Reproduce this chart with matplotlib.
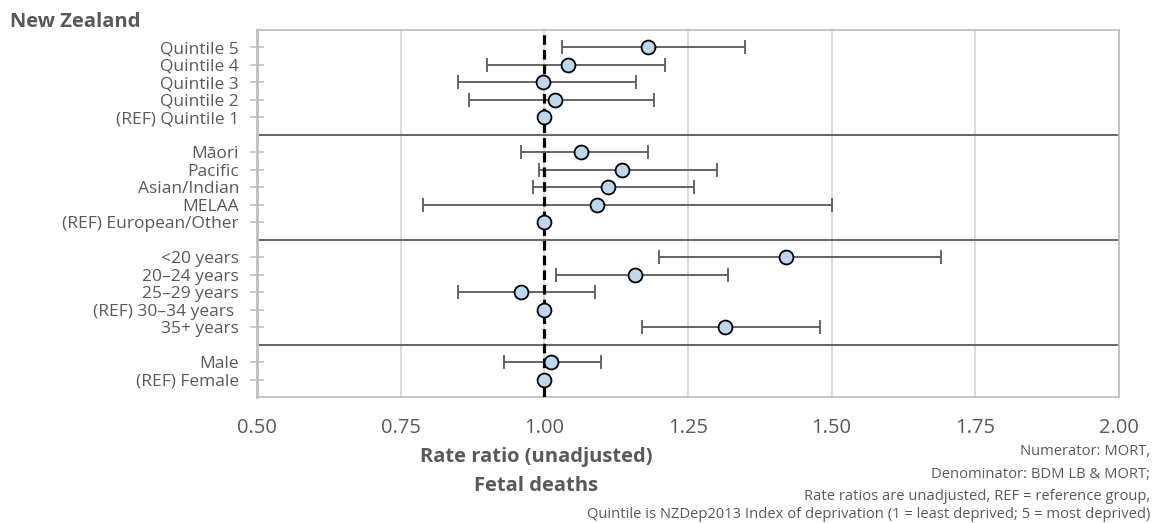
import numpy as np
import matplotlib
matplotlib.use("Agg")
import matplotlib.pyplot as plt

plt.rcParams["font.family"] = ["Open Sans", "DejaVu Sans"]

# --- data ---
quintile_labels = ["Quintile 5", "Quintile 4", "Quintile 3", "Quintile 2", "(REF) Quintile 1"]
quintile_rr = [1.180, 1.042, 0.997, 1.018, 1.000]
quintile_lo = [1.030, 0.900, 0.850, 0.869, None]
quintile_hi = [1.350, 1.210, 1.160, 1.190, None]

ethnic_labels = ["Māori", "Pacific", "Asian/Indian", "MELAA", "(REF) European/Other"]
ethnic_rr = [1.064, 1.135, 1.110, 1.091, 1.000]
ethnic_lo = [0.959, 0.990, 0.980, 0.789, None]
ethnic_hi = [1.180, 1.300, 1.260, 1.500, None]

age_labels = ["<20 years", "20–24 years", "25–29 years", "(REF) 30–34 years ", "35+ years"]
age_rr = [1.421, 1.157, 0.959, 1.000, 1.314]
age_lo = [1.199, 1.020, 0.850, None, 1.170]
age_hi = [1.690, 1.319, 1.089, None, 1.480]

sex_labels = ["Male", "(REF) Female"]
sex_rr = [1.012, 1.000]
sex_lo = [0.929, None]
sex_hi = [1.099, None]

groups = [
    (quintile_labels, quintile_rr, quintile_lo, quintile_hi),
    (ethnic_labels, ethnic_rr, ethnic_lo, ethnic_hi),
    (age_labels, age_rr, age_lo, age_hi),
    (sex_labels, sex_rr, sex_lo, sex_hi),
]

x_ticks = [0.50, 0.75, 1.00, 1.25, 1.50, 1.75, 2.00]

text_col = "#595959"
frame_col = "#bfbfbf"

fig = plt.figure(figsize=(11.52, 5.23), dpi=100)
ax = fig.add_axes([257 / 1152, 1 - 397.3 / 523, (1119 - 257) / 1152, (397.3 - 30.5) / 523])

labels, ypos, rr, lo, hi, seps = [], [], [], [], [], []
y = 0
for gi, (lab, r, l, h) in enumerate(groups):
    for i in range(len(lab)):
        labels.append(lab[i])
        ypos.append(y)
        rr.append(r[i])
        lo.append(l[i])
        hi.append(h[i])
        y += 1
    if gi < len(groups) - 1:
        seps.append(y)
        y += 1

# separators between groups
for s in seps:
    ax.axhline(s, color="#595959", lw=1.3, zorder=2)

# error bars (reference groups have none)
for yy, r, l, h in zip(ypos, rr, lo, hi):
    if l is None:
        continue
    ax.errorbar(r, yy, xerr=[[r - l], [h - r]], fmt="none", ecolor="#595959",
                elinewidth=1.3, capsize=5, capthick=1.3, zorder=3)

ax.axvline(1.0, color="black", lw=2.3, ls=(0, (3, 1.6)), zorder=4)

ax.plot(rr, ypos, "o", ms=10, mfc="#bdd7ee", mec="black", mew=1.3, ls="none", zorder=5)

ax.set_xlim(0.5, 2.0)
ax.set_ylim(19.99, -0.95)
ax.set_xticks(x_ticks)
ax.set_xticklabels([f"{t:.2f}" for t in x_ticks])
ax.set_yticks(ypos)
ax.set_yticklabels(labels)

ax.grid(axis="x", color="#d9d9d9", lw=1.3, zorder=0)
ax.set_axisbelow(True)
for sp in ax.spines.values():
    sp.set_color(frame_col)
    sp.set_linewidth(1.3)
ax.spines["left"].set_linewidth(2)

ax.tick_params(axis="x", length=0, pad=15, labelsize=14.5, labelcolor=text_col)
ax.tick_params(axis="y", direction="inout", length=10, width=1.2, color=frame_col,
               pad=8, labelsize=12.5, labelcolor=text_col)

fig.text(10 / 1152, 1 - 22 / 523, "New Zealand", fontsize=14.5, fontweight="bold",
         color=text_col, ha="left", va="center")

fig.text(536 / 1152, 1 - 457 / 523, "Rate ratio (unadjusted)", fontsize=14.5,
         fontweight="bold", color=text_col, ha="center", va="center")
fig.text(536 / 1152, 1 - 486 / 523, "Fetal deaths", fontsize=14.5,
         fontweight="bold", color=text_col, ha="center", va="center")

notes = [
    "Numerator: MORT,",
    "Denominator: BDM LB & MORT;",
    "Rate ratios are unadjusted, REF = reference group,",
    "Quintile is NZDep2013 Index of deprivation (1 = least deprived; 5 = most deprived)",
]
note_base = [455, 478, 500.5, 518.5]
for txt, ny in zip(notes, note_base):
    fig.text(1150 / 1152, 1 - ny / 523, txt, fontsize=10.6, color=text_col,
             ha="right", va="baseline")

fig.savefig("out.png", dpi=100)
